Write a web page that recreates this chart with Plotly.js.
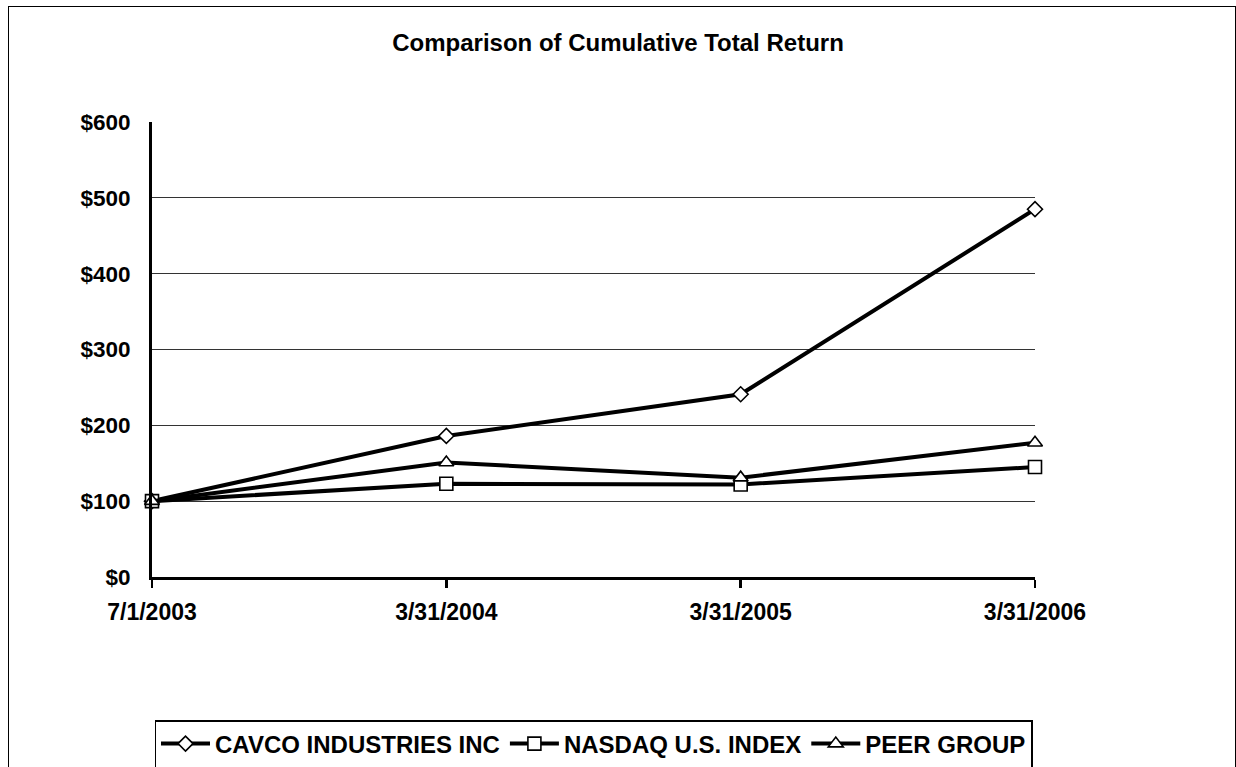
<!DOCTYPE html>
<html>
<head>
<meta charset="utf-8">
<script src="https://cdn.plot.ly/plotly-3.0.1.min.js"></script>
<style>
  html, body { margin: 0; padding: 0; background: #fff; overflow: hidden; }
  #frame { position: absolute; left: 8px; top: 6px; width: 1228px; height: 820px; border: 1.5px solid #000; box-sizing: border-box; }
  #chart { position: absolute; left: 0; top: 0; width: 1236px; height: 767px; }
</style>
</head>
<body>
<div id="frame"></div>
<div id="chart"></div>
<script>
const categories = ["7/1/2003", "3/31/2004", "3/31/2005", "3/31/2006"];
const cavco = [100, 186, 241, 485];
const nasdaq = [100, 123, 122, 145];
const peer = [100, 151, 131, 177];
const yTickVals = [0, 100, 200, 300, 400, 500, 600];
const yTickText = ["$0", "$100", "$200", "$300", "$400", "$500", "$600"];

const xIdx = categories.map((c, i) => i);
const FONT = "Liberation Sans, Arial, sans-serif";

function series(name, y, symbol, size) {
  return {
    type: "scatter", mode: "lines+markers", name: name,
    x: xIdx, y: y, cliponaxis: false,
    line: { color: "#000", width: 4 },
    marker: { symbol: symbol, size: size, color: "#fff", line: { color: "#000", width: 1.6 } }
  };
}

const data = [
  series("CAVCO INDUSTRIES INC", cavco, "diamond", 11.5),
  series("NASDAQ U.S. INDEX", nasdaq, "square", 13),
  series("PEER GROUP", peer, "triangle-up", 13)
];

const layout = {
  width: 1236, height: 767,
  margin: { l: 152, r: 201, t: 122, b: 190, autoexpand: false },
  paper_bgcolor: "rgba(0,0,0,0)", plot_bgcolor: "rgba(0,0,0,0)",
  showlegend: true,
  title: {
    text: "<b>Comparison of Cumulative Total Return</b>",
    font: { family: FONT, size: 24, color: "#000" },
    x: 0.5, xanchor: "center", xref: "container",
    y: 1 - 43 / 767, yanchor: "middle", yref: "container"
  },
  xaxis: {
    range: [0, 3], tickmode: "array", tickvals: xIdx, ticktext: categories.map(c => "<b>" + c + "</b>"),
    showgrid: false, zeroline: false,
    showline: true, linecolor: "#000", linewidth: 3,
    ticks: "outside", ticklen: 8, tickwidth: 2.5, tickcolor: "#000",
    ticklabelstandoff: 4,
    tickfont: { family: FONT, size: 23, color: "#000" }
  },
  yaxis: {
    range: [0, 600], tickmode: "array", tickvals: yTickVals, ticktext: yTickText.map(t => "<b>" + t + "</b>"),
    showgrid: true, gridcolor: "#333", gridwidth: 1,
    zeroline: false,
    showline: true, linecolor: "#000", linewidth: 3,
    ticks: "", ticklabelstandoff: 14,
    tickfont: { family: FONT, size: 22.5, color: "#000" }
  },
  legend: {
    orientation: "h",
    x: (593.5 - 152) / 883, xanchor: "center",
    y: (577 - 720) / 455, yanchor: "top",
    bgcolor: "#fff", bordercolor: "#000", borderwidth: 1.5,
    font: { family: FONT, size: 24, color: "#000", weight: "bold" },
    itemwidth: 49, tracegroupgap: 0
  }
};

Plotly.newPlot("chart", data, layout, { displayModeBar: false, staticPlot: true });
</script>
</body>
</html>
